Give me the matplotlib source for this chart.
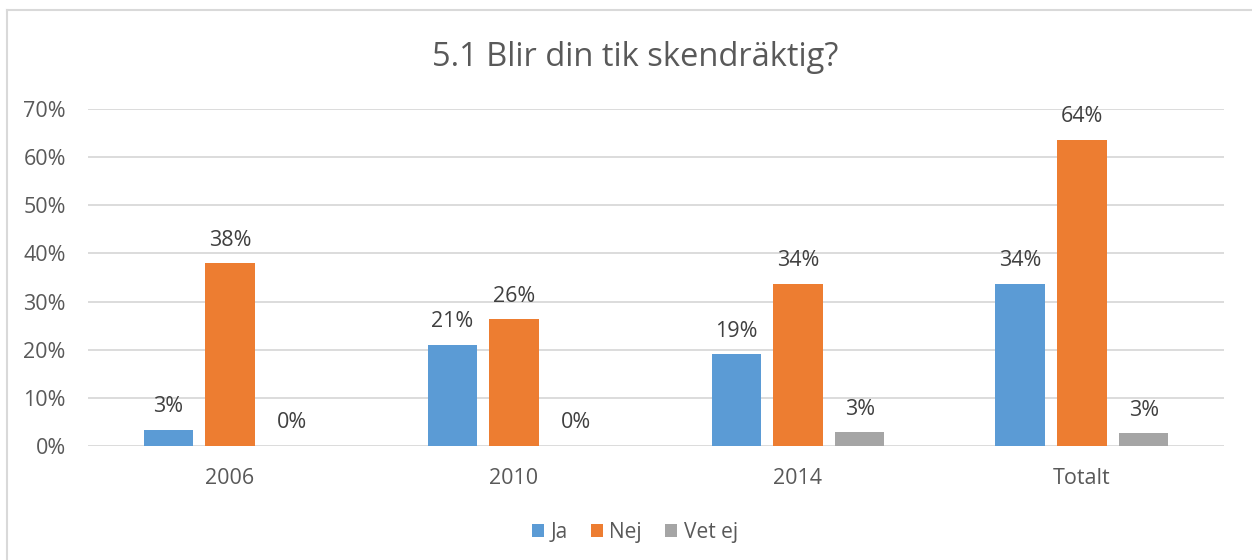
import numpy as np
import matplotlib.pyplot as plt
from matplotlib.lines import Line2D

# Data
kategorier = ['2006', '2010', '2014', 'Totalt']
ja = [3.4, 21.0, 19.1, 33.7]
nej = [38.0, 26.3, 33.7, 63.6]
vet_ej = [0.0, 0.0, 2.9, 2.6]
serier = ['Ja', 'Nej', 'Vet ej']
farger = ['#5B9BD5', '#ED7D31', '#A5A5A5']

plt.rcParams['font.family'] = ['Open Sans', 'DejaVu Sans']

fig = plt.figure(figsize=(12.52, 5.6), dpi=100)
ax = fig.add_axes([0.0703, 0.2036, 0.9073, 0.6018])

x = np.arange(len(kategorier))
bredd = 0.173
steg = 0.218
for i, (namn, varden, farg) in enumerate(zip(serier, [ja, nej, vet_ej], farger)):
    pos = x + (i - 1) * steg
    ax.bar(pos, varden, bredd, color=farg, label=namn, zorder=3)
    for px, v in zip(pos, varden):
        ax.annotate(f'{v:.0f}%', (px, v), xytext=(0, 9), textcoords='offset points',
                    ha='center', va='bottom', fontsize=15.5, color='#404040')

ax.set_xlim(-0.5, len(kategorier) - 0.5)
ax.set_ylim(0, 70)
ax.set_yticks(np.arange(0, 71, 10))
ax.set_yticklabels([f'{t}%' for t in range(0, 71, 10)])
ax.set_xticks(x)
ax.set_xticklabels(kategorier)
ax.tick_params(axis='both', length=0, labelsize=15.5, labelcolor='#595959')
ax.tick_params(axis='x', pad=16)
ax.tick_params(axis='y', pad=16)
ax.grid(axis='y', color='#d9d9d9', linewidth=1.3, zorder=0)
for s in ax.spines.values():
    s.set_visible(False)

fig.text(0.507, 0.897, '5.1 Blir din tik skendräktig?', ha='center', va='center',
         fontsize=23.5, color='#595959')

leg = fig.legend(loc='center', bbox_to_anchor=(0.507, 0.049), ncol=3, frameon=False,
                 fontsize=15, handlelength=0.6, handleheight=0.6, handletextpad=0.3,
                 columnspacing=1.1)
for t in leg.get_texts():
    t.set_color('#595959')

# ram runt diagrammet
fig.add_artist(Line2D([0.0056, 0.0056], [0, 0.982], transform=fig.transFigure,
                      color='#d9d9d9', linewidth=1.5))
fig.add_artist(Line2D([0.0056, 0.999], [0.982, 0.982], transform=fig.transFigure,
                      color='#d9d9d9', linewidth=1.5))

fig.savefig('out.png', dpi=100)
